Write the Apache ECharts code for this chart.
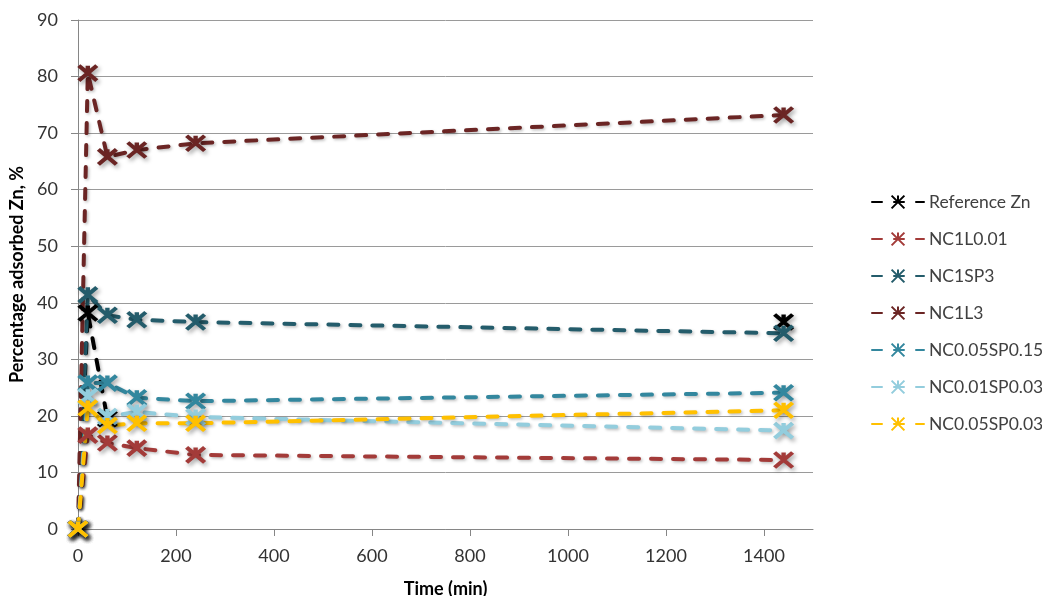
<!DOCTYPE html>
<html><head><meta charset="utf-8">
<script src="https://cdn.jsdelivr.net/npm/echarts@6/dist/echarts.min.js"></script>
<style>html,body{margin:0;padding:0;background:#fff}#c{width:1042px;height:596px}</style>
</head><body><div id="c"></div>
<script>
const times = [0, 20, 60, 120, 240, 1440];
const seriesNames = ['Reference Zn', 'NC1L0.01', 'NC1SP3', 'NC1L3', 'NC0.05SP0.15', 'NC0.01SP0.03', 'NC0.05SP0.03'];
const refZn      = [0, 38.2, 19.5, null, null, 36.6];
const nc1l001    = [0, 16.6, 15.2, 14.3, 13.1, 12.2];
const nc1sp3     = [0, 41.4, 37.8, 37.0, 36.6, 34.6];
const nc1l3      = [0, 80.6, 65.8, 67.0, 68.2, 73.2];
const nc005sp015 = [0, 25.8, 25.8, 23.2, 22.6, 24.1];
const nc001sp003 = [0, 23.4, 19.9, 20.7, 19.8, 17.4];
const nc005sp003 = [0, 21.4, 18.3, 18.7, 18.7, 21.0];
const xTickLabels = [0, 200, 400, 600, 800, 1000, 1200, 1400];
const yTickLabels = [0, 10, 20, 30, 40, 50, 60, 70, 80, 90];

const values = [refZn, nc1l001, nc1sp3, nc1l3, nc005sp015, nc001sp003, nc005sp003];
const colors = ['#000000', '#A33B39', '#245C6B', '#6B2524', '#33879E', '#93CDDD', '#FFC000'];
const FONT = "Lato, 'Liberation Sans', sans-serif";
const starPath = 'path://M0,0L10,10M10,0L0,10M5,0L5,4';

const series = seriesNames.map((name, i) => ({
  name: name,
  type: 'line',
  data: times.map((t, k) => [t, values[i][k]]),
  connectNulls: false,
  symbol: starPath,
  symbolSize: [18, 15],
  showAllSymbol: true,
  lineStyle: { color: colors[i], width: 4, type: [10, 12], cap: 'round',
    shadowColor: 'rgba(0,0,0,0.25)', shadowBlur: 3, shadowOffsetX: 1.5, shadowOffsetY: 1.5 },
  itemStyle: { color: colors[i], borderColor: colors[i], borderWidth: 4,
    shadowColor: 'rgba(0,0,0,0.35)', shadowBlur: 4, shadowOffsetX: 2, shadowOffsetY: 2.5 },
  emphasis: { disabled: true },
  animation: false
}));

const chart = echarts.init(document.getElementById('c'), null, { renderer: 'canvas' });
chart.setOption({
  backgroundColor: '#fff',
  animation: false,
  grid: { left: 78, top: 20, width: 735, height: 509, containLabel: false, outerBoundsMode: 'none' },
  legend: {
    orient: 'vertical', left: 866, top: 187,
    itemWidth: 52, itemHeight: 16, itemGap: 17,
    textStyle: { fontFamily: FONT, fontSize: 17.5, lineHeight: 20, color: '#404040', padding: [0, 0, 0, 0] },
    data: seriesNames
  },
  xAxis: {
    type: 'value', min: 0, max: 1500, interval: 200,
    name: 'Time (min)', nameLocation: 'middle', nameGap: 51,
    nameTextStyle: { fontFamily: FONT, fontSize: 18, fontWeight: 'bold', color: '#000' },
    axisLine: { show: true, lineStyle: { color: '#868686', width: 1 } },
    axisTick: { show: true, length: 7, lineStyle: { color: '#868686' }, customValues: xTickLabels },
    axisLabel: { fontFamily: FONT, fontSize: 18, color: '#333', margin: 18, customValues: xTickLabels,
      formatter: v => String(v) },
    splitLine: { show: false }
  },
  yAxis: {
    type: 'value', min: 0, max: 90, interval: 10,
    name: 'Percentage adsorbed Zn, %', nameLocation: 'middle', nameGap: 40, nameRotate: 90,
    nameTextStyle: { fontFamily: FONT, fontSize: 18, fontWeight: 'bold', color: '#000' },
    axisLine: { show: true, lineStyle: { color: '#868686', width: 1 } },
    axisTick: { show: true, length: 7, lineStyle: { color: '#868686' } },
    axisLabel: { fontFamily: FONT, fontSize: 18, color: '#333', margin: 20, formatter: v => String(v) },
    splitLine: { show: true, lineStyle: { color: '#9a9a9a', width: 1 } }
  },
  series: series
});
</script>
</body></html>
